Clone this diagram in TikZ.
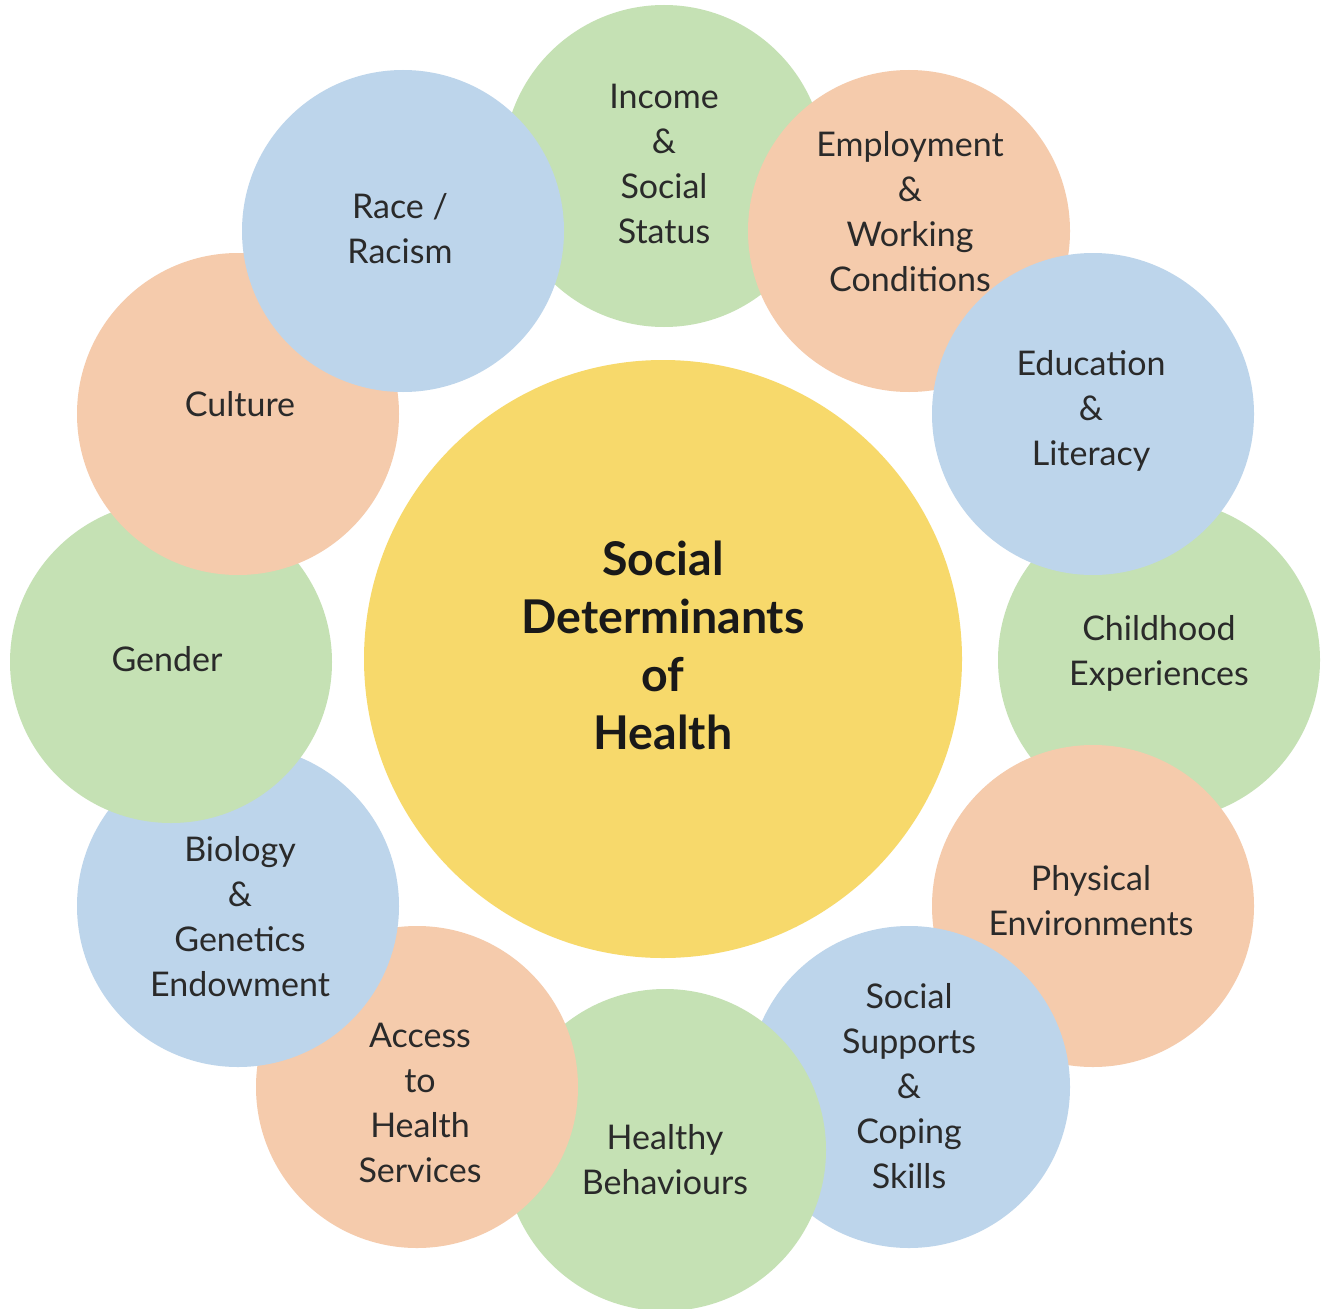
\documentclass[tikz,border=0pt]{standalone}
\usepackage{fontspec}
\setmainfont{Lato}
\begin{document}
\begin{tikzpicture}[x=1pt,y=-1pt]
\definecolor{cgreen}{HTML}{C5E1B4}
\definecolor{cpeach}{HTML}{F5CBAC}
\definecolor{cblue}{HTML}{BDD5EB}
\definecolor{cyellow}{HTML}{F7D96B}
\definecolor{ink}{HTML}{2A2A2A}
\tikzset{
  bubble/.style={circle, draw=none, minimum size=322pt, inner sep=0pt},
  lbl/.style={align=center, text=ink, inner sep=0pt,
    font=\fontsize{34}{45}\selectfont},
  hub/.style={align=center, text=black!90, inner sep=0pt,
    font=\fontsize{46.5}{58}\selectfont\bfseries}
}
\useasboundingbox (0,0) rectangle (1324,1308);
\fill[white] (0,0) rectangle (1324,1308);

% centre
\node[circle, fill=cyellow, minimum size=598pt, inner sep=0pt] (hubc) at (663,659) {};

% surrounding bubbles, painted from bottom layer to top layer
\node[bubble, fill=cgreen] (income)    at (664,166)  {};
\node[bubble, fill=cgreen] (childhood) at (1159,660) {};
\node[bubble, fill=cpeach] (employ)    at (909,231)  {};
\node[bubble, fill=cblue]  (educ)      at (1093,414) {};
\node[bubble, fill=cpeach] (physical)  at (1093,906) {};
\node[bubble, fill=cblue]  (support)   at (909,1087) {};
\node[bubble, fill=cgreen] (healthy)   at (665,1150) {};
\node[bubble, fill=cpeach] (access)    at (417,1087) {};
\node[bubble, fill=cblue]  (biology)   at (238,906)  {};
\node[bubble, fill=cgreen] (gender)    at (171,662)  {};
\node[bubble, fill=cpeach] (culture)   at (238,414)  {};
\node[bubble, fill=cblue]  (race)      at (403,231)  {};

% labels
\node[hub] (hubt) at (663,645) {Social\\Determinants\\of\\Health};
\node[lbl] (income-t)    at (664,164)  {Income\\\&\\Social\\Status};
\node[lbl] (employ-t)    at (910,212)  {Employment\\\&\\Working\\Conditions};
\node[lbl] (educ-t)      at (1091,411) {Education\\\&\\Literacy};
\node[lbl] (childhood-t) at (1159,653) {Childhood\\Experiences};
\node[lbl] (physical-t)  at (1091,901) {Physical\\Environments};
\node[lbl] (support-t)   at (909,1086) {Social\\Supports\\\&\\Coping\\Skills};
\node[lbl] (healthy-t)   at (665,1160) {Healthy\\Behaviours};
\node[lbl] (access-t)    at (420,1103) {Access\\to\\Health\\Services};
\node[lbl] (biology-t)   at (240,917)  {Biology\\\&\\Genetics\\Endowment};
\node[lbl] (gender-t)    at (167,659)  {Gender};
\node[lbl] (culture-t)   at (240,404)  {Culture};
\node[lbl] (race-t)      at (400,229)  {Race /\\Racism};
\end{tikzpicture}
\end{document}
